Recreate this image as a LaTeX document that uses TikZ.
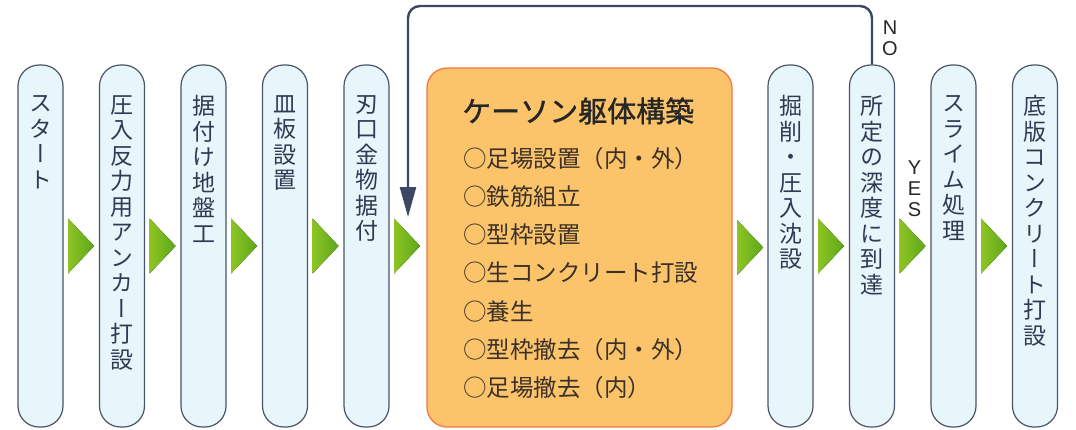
\documentclass[tikz,border=0pt]{standalone}
\usepackage{fontspec}
\setmainfont{Noto Sans CJK JP}
\newfontfamily\vfont[RawFeature=+vert]{Noto Sans CJK JP}
\newfontfamily\titlefont[FakeBold=1.2]{Noto Sans CJK JP}
\newfontfamily\latinfont{Liberation Sans}
\usetikzlibrary{arrows.meta,positioning}

\definecolor{boxline}{HTML}{4A5468}
\definecolor{boxfill}{HTML}{E6F6FA}
\definecolor{ink}{HTML}{2F3B55}
\definecolor{csfill}{HTML}{FCC46A}
\definecolor{csline}{HTML}{F07A45}
\definecolor{csink}{HTML}{3B3129}
\definecolor{triL}{HTML}{8EC424}
\definecolor{triR}{HTML}{5BA81A}
\definecolor{retline}{HTML}{3B4763}

\begin{document}
\begin{tikzpicture}[x=1pt,y=-1pt,>={Triangle[width=16pt,length=30pt]},node distance=81.5pt,
  stage/.style={draw=boxline,line width=1.2pt,fill=boxfill,rounded corners=21pt,minimum width=45pt,minimum height=362pt,inner sep=0pt},
  vtext/.style={align=center,inner sep=0pt,text=ink,font=\vfont\fontsize{23}{25.5}\selectfont},
  caisson/.style={draw=csline,line width=1.3pt,fill=csfill,rounded corners=20pt,minimum width=305pt,minimum height=359pt,inner sep=0pt},
  title/.style={anchor=base west,inner sep=0pt,text=black!85,font=\titlefont\fontsize{29}{32}\selectfont},
  item/.style={anchor=base west,inner sep=0pt,text=csink,font=\fontsize{23.5}{26}\selectfont},
  go/.style={left color=triL,right color=triR},
  back/.style={->,draw=retline,line width=2.4pt,rounded corners=12pt},
  yn/.style={align=center,inner sep=0pt,text=black!85,font=\latinfont\fontsize{20}{21}\selectfont}]

\useasboundingbox (0,0) rectangle (1076,429);

% stages
\node[stage] (s1) at (40.5,246) {};
\node[stage] (s2) [right of=s1] {};
\node[stage] (s3) [right of=s2] {};
\node[stage] (s4) [right of=s3] {};
\node[stage] (s5) [right of=s4] {};
\node[caisson] (cs) [node distance=213pt,right of=s5,yshift=-1.5pt] {};
\node[stage] (s6) [node distance=211pt,right of=cs,yshift=1.5pt] {};
\node[stage] (s7) [right of=s6] {};
\node[stage] (s8) [right of=s7] {};
\node[stage] (s9) [right of=s8] {};

\node[vtext] (t1) [below=31pt of s1.north] {ス\\タ\\ー\\ト};
\node[vtext] (t2) [below=31pt of s2.north] {圧\\入\\反\\力\\用\\ア\\ン\\カ\\ー\\打\\設};
\node[vtext] (t3) [below=31pt of s3.north] {据\\付\\け\\地\\盤\\工};
\node[vtext] (t4) [below=31pt of s4.north] {皿\\板\\設\\置};
\node[vtext] (t5) [below=31pt of s5.north] {刃\\口\\金\\物\\据\\付};
\node[vtext] (t6) [below=31pt of s6.north] {掘\\削\\・\\圧\\入\\沈\\設};
\node[vtext] (t7) [below=31pt of s7.north] {所\\定\\の\\深\\度\\に\\到\\達};
\node[vtext] (t8) [below=31pt of s8.north] {ス\\ラ\\イ\\ム\\処\\理};
\node[vtext] (t9) [below=31pt of s9.north] {底\\版\\コ\\ン\\ク\\リ\\ー\\ト\\打\\設};

% caisson body
\node[title] (ttl) at (462,122) {ケーソン躯体構築};
\foreach \t [count=\i from 0] in {○足場設置（内・外）,○鉄筋組立,○型枠設置,○生コンクリート打設,○養生,○型枠撤去（内・外）,○足場撤去（内）}
  \node[item] (it\i) at (463,{167+38.3*\i}) {\t};

% green arrows
\foreach \a in {s1,s2,s3,s4,s5,cs,s6,s7,s8}
  \fill[go] ([xshift=4.5pt]\a.east) ++(0,-27.5) -- ++(26,27.5) -- ++(-26,27.5) -- cycle;

% NO loop
\coordinate (top) at (0,6);
\coordinate (ret) at (408,217);
\draw[back] (s7.north) -- (s7.north |- top) -| (ret);
\node[yn] (no) at (890,38.5) {N\\O};
\node[yn] (yes) at (914.5,188.5) {Y\\E\\S};

\end{tikzpicture}
\end{document}
